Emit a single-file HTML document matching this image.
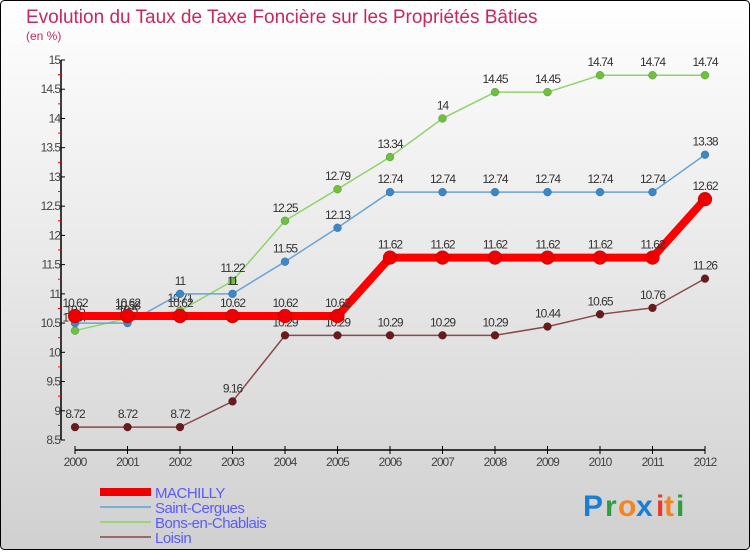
<!DOCTYPE html>
<html><head><meta charset="utf-8"><style>
html,body{margin:0;padding:0}
body{width:750px;height:550px;overflow:hidden;font-family:"Liberation Sans",sans-serif}
</style></head><body>
<svg id="chart" width="750" height="550" xmlns="http://www.w3.org/2000/svg">
<defs><linearGradient id="bg" x1="0" y1="0" x2="0" y2="1"><stop offset="0" stop-color="#ffffff"/><stop offset="1" stop-color="#d0d0d0"/></linearGradient></defs>
<rect x="0.5" y="0.5" width="749" height="549" rx="4" fill="url(#bg)" stroke="#000"/>
<text x="26" y="23" font-size="19" fill="#c8285a">Evolution du Taux de Taxe Foncière sur les Propriétés Bâties</text>
<text x="26" y="40" font-size="12" fill="#c8285a">(en %)</text>
<g id="axes"></g>
<g id="series"></g>
<g id="legend"></g>
<g font-size="30" font-weight="bold" font-family="Liberation Sans, sans-serif">
<text x="583" y="516" fill="#1a7fd4">P</text><text x="605" y="516" fill="#2e9e3e">r</text><text x="618" y="516" fill="#f5841f">o</text><text x="636" y="516" fill="#1a7fd4">x</text><text x="656" y="516" fill="#e53b2b">i</text><text x="664" y="516" fill="#f5841f">t</text><text x="676" y="516" fill="#2e9e3e">i</text>
</g>
</svg>
<script>
const years=[2000,2001,2002,2003,2004,2005,2006,2007,2008,2009,2010,2011,2012];
const machilly=[10.62,10.62,10.62,10.62,10.62,10.62,11.62,11.62,11.62,11.62,11.62,11.62,12.62];
const saintCergues=[10.5,10.5,11,11,11.55,12.13,12.74,12.74,12.74,12.74,12.74,12.74,13.38];
const bons=[10.37,10.58,10.71,11.22,12.25,12.79,13.34,14,14.45,14.45,14.74,14.74,14.74];
const loisin=[8.72,8.72,8.72,9.16,10.29,10.29,10.29,10.29,10.29,10.44,10.65,10.76,11.26];
const yTicks=[8.5,9,9.5,10,10.5,11,11.5,12,12.5,13,13.5,14,14.5,15];
const NS="http://www.w3.org/2000/svg";
const x=i=>75+i*52.5;
const y=v=>60+(15-v)*(380/6.5);
function mk(tag,attrs,parent,txt){const e=document.createElementNS(NS,tag);for(const k in attrs)e.setAttribute(k,attrs[k]);if(txt!==undefined)e.textContent=txt;parent.appendChild(e);return e;}
const axes=document.getElementById('axes');
const ya=mk('line',{x1:61,y1:60,x2:61,y2:440,stroke:'#000','stroke-width':1.5},axes);


yTicks.forEach(t=>{
 const tk=mk('line',{x1:61,y1:y(t),x2:65,y2:y(t),stroke:'#000'},axes);
 
 
 const lb=mk('text',{x:60,y:y(t)+4,'font-size':12,'text-anchor':'end',fill:'#444','letter-spacing':'-1'},axes,String(t));
 
 
 if(t<15){const m=mk('line',{x1:58,y1:y(t+0.25),x2:61,y2:y(t+0.25),stroke:'#f00'},axes);
 
 }
});
const xa=mk('line',{x1:75,y1:450,x2:705,y2:450,stroke:'#000','stroke-width':1.5},axes);


years.forEach((yr,i)=>{
 const tk=mk('line',{x1:x(i),y1:446,x2:x(i),y2:454,stroke:'#000'},axes);
 
 
 const lb=mk('text',{x:x(i),y:466,'font-size':12,'text-anchor':'middle',fill:'#444','letter-spacing':'-1'},axes,String(yr));
 
 
});
const sg=document.getElementById('series');
function series(name,data,color,dot,lw,r){
 const g=mk('g',{},sg);
 
 
 const p=mk('polyline',{points:data.map((v,i)=>x(i)+','+y(v)).join(' '),fill:'none',stroke:color,'stroke-width':lw,'stroke-linejoin':'round'},g);
 
 
 data.forEach((v,i)=>{
  const c=mk('circle',{cx:x(i),cy:y(v),r:r,fill:dot,stroke:'rgba(0,0,0,0.3)','stroke-width':0.5},g);
  
  
  const t=mk('text',{x:x(i),y:y(v)-9,'font-size':12,'text-anchor':'middle',fill:'#333','letter-spacing':'-1'},g,String(v));
  
  
 });
}
series('loisin',loisin,'#8a4a4a','#6a1a1a',1.5,4);
series('bons-en-chablais',bons,'#8fd46a','#6cc23a',1.5,4);
series('saint-cergues',saintCergues,'#6aa4d4','#3a88c8',1.5,4);
series('machilly',machilly,'#ff0000','#ee0000',8,7);
const lg=document.getElementById('legend');
[['MACHILLY','#ee0000',8],['Saint-Cergues','#7aaed4',2],['Bons-en-Chablais','#9ad47a',2],['Loisin','#9a6a6a',2]].forEach((e,i)=>{
 const yy=492+i*15;
 const l=mk('line',{x1:100,y1:yy,x2:151,y2:yy,stroke:e[1],'stroke-width':e[2]},lg);
 
 
 const t=mk('text',{x:155,y:yy+6,'font-size':15,fill:'#5a5aff','letter-spacing':'-0.5'},lg,e[0]);
 
 
});
</script>
</body></html>
